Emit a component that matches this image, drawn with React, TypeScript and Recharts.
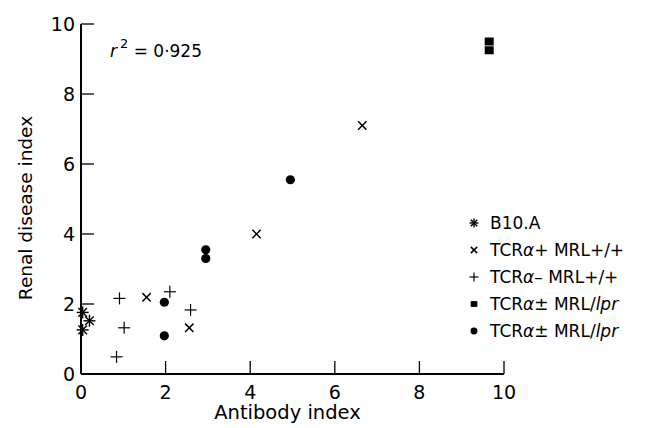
import React from "react";
import { ScatterChart, Scatter, XAxis, YAxis, Legend, Label } from "recharts";

const FONT = '"DejaVu Sans", Verdana, sans-serif';

const xTicks = [0, 2, 4, 6, 8, 10];
const yTicks = [0, 2, 4, 6, 8, 10];

// antibody index (x) vs renal disease index (y)
const b10a = [
  { x: 0.04, y: 1.76 },
  { x: 0.2, y: 1.52 },
  { x: 0.04, y: 1.26 },
];
const tcrPlus = [
  { x: 1.55, y: 2.19 },
  { x: 2.56, y: 1.32 },
  { x: 4.15, y: 4.0 },
  { x: 6.65, y: 7.1 },
];
const tcrMinus = [
  { x: 0.91, y: 2.16 },
  { x: 2.1, y: 2.35 },
  { x: 2.59, y: 1.83 },
  { x: 1.02, y: 1.32 },
  { x: 0.84, y: 0.49 },
];
const lprSquare = [
  { x: 9.65, y: 9.5 },
  { x: 9.65, y: 9.25 },
];
const lprCircle = [
  { x: 1.97, y: 2.05 },
  { x: 1.97, y: 1.09 },
  { x: 2.95, y: 3.55 },
  { x: 2.95, y: 3.3 },
  { x: 4.95, y: 5.55 },
];

const legendLabels = ["B10.A", "TCRα+ MRL+/+", "TCRα– MRL+/+", "TCRα± MRL/lpr", "TCRα± MRL/lpr"];
const legendShapes = ["asterisk", "cross", "plus", "square", "circle"];
const r2Text = "= 0·925";

const drawMark = (kind: string, cx: number, cy: number, small = false) => {
  const k = small ? 0.75 : 1;
  if (kind === "asterisk") {
    const r = 6 * k;
    const d = 4.3 * k;
    return (
      <g stroke="#000" strokeWidth={1.4}>
        <line x1={cx - r} y1={cy} x2={cx + r} y2={cy} />
        <line x1={cx} y1={cy - r} x2={cx} y2={cy + r} />
        <line x1={cx - d} y1={cy - d} x2={cx + d} y2={cy + d} />
        <line x1={cx - d} y1={cy + d} x2={cx + d} y2={cy - d} />
      </g>
    );
  }
  if (kind === "cross") {
    const d = 4.2 * k;
    return (
      <g stroke="#000" strokeWidth={1.5}>
        <line x1={cx - d} y1={cy - d} x2={cx + d} y2={cy + d} />
        <line x1={cx - d} y1={cy + d} x2={cx + d} y2={cy - d} />
      </g>
    );
  }
  if (kind === "plus") {
    const r = 6 * k;
    return (
      <g stroke="#000" strokeWidth={1.2}>
        <line x1={cx - r} y1={cy} x2={cx + r} y2={cy} />
        <line x1={cx} y1={cy - r} x2={cx} y2={cy + r} />
      </g>
    );
  }
  if (kind === "square") {
    const s = 9 * k;
    return <rect x={cx - s / 2} y={cy - (s - 1) / 2} width={s} height={s - 1} fill="#000" />;
  }
  return <circle cx={cx} cy={cy} r={4.6 * k} fill="#000" />;
};

const shapeOf = (kind: string) => (props: any) => drawMark(kind, props.cx, props.cy);

const formatLabel = (s: string) => {
  const parts = s.split(/(α|lpr)/);
  return parts.map((p, i) =>
    p === "α" || p === "lpr" ? <i key={i}>{p}</i> : <span key={i}>{p}</span>
  );
};

const renderLegend = () => (
  <div style={{ fontFamily: FONT, fontSize: 17, color: "#000" }}>
    {legendLabels.map((lab, i) => (
      <div key={i} style={{ display: "flex", alignItems: "center", height: 27, whiteSpace: "nowrap" }}>
        <svg width={16} height={16} style={{ marginRight: 8 }}>
          {drawMark(legendShapes[i], 8, 8, true)}
        </svg>
        <span>{formatLabel(lab)}</span>
      </div>
    ))}
  </div>
);

const XTick = (props: any) => {
  const { x, y, payload } = props;
  return (
    <g>
      <line x1={x} y1={y} x2={x} y2={y - 13} stroke="#000" strokeWidth={1.3} />
      <text x={x} y={y + 25} textAnchor="middle" fontSize={19} fontFamily={FONT} fill="#000">
        {payload.value}
      </text>
    </g>
  );
};

const YTick = (props: any) => {
  const { x, y, payload } = props;
  return (
    <g>
      <line x1={x} y1={y} x2={x + 13} y2={y} stroke="#000" strokeWidth={1.3} />
      <text x={x - 6} y={y + 7} textAnchor="end" fontSize={19} fontFamily={FONT} fill="#000">
        {payload.value}
      </text>
    </g>
  );
};

export default function App() {
  return (
    <div style={{ position: "absolute", left: 0, top: 0, width: 648, height: 428, background: "#fff" }}>
      <ScatterChart width={648} height={428} margin={{ top: 24, right: 144, bottom: 0, left: 0 }}>
        <XAxis
          type="number"
          dataKey="x"
          domain={[0, 10]}
          ticks={xTicks}
          height={54}
          tickSize={0}
          tickMargin={0}
          tickLine={false}
          axisLine={{ stroke: "#000", strokeWidth: 2 }}
          tick={<XTick />}
          interval={0}
        >
          <Label
            value="Antibody index"
            position="center"
            dx={-5}
            dy={11}
            fontSize={19.5}
            fontFamily={FONT}
            fill="#000"
          />
        </XAxis>
        <YAxis
          type="number"
          dataKey="y"
          domain={[0, 10]}
          ticks={yTicks}
          width={81}
          tickSize={0}
          tickMargin={0}
          tickLine={false}
          axisLine={{ stroke: "#000", strokeWidth: 2 }}
          tick={<YTick />}
          interval={0}
        >
          <Label
            value="Renal disease index"
            position="center"
            angle={-90}
            dx={-15.5}
            dy={9}
            fontSize={18.5}
            fontFamily={FONT}
            fill="#000"
          />
        </YAxis>
        <Legend
          layout="vertical"
          align="center"
          verticalAlign="middle"
          content={renderLegend}
          wrapperStyle={{ left: 466, top: 209, width: 182 }}
        />
        <Scatter name={legendLabels[0]} data={b10a} shape={shapeOf("asterisk")} isAnimationActive={false} />
        <Scatter name={legendLabels[1]} data={tcrPlus} shape={shapeOf("cross")} isAnimationActive={false} />
        <Scatter name={legendLabels[2]} data={tcrMinus} shape={shapeOf("plus")} isAnimationActive={false} />
        <Scatter name={legendLabels[3]} data={lprSquare} shape={shapeOf("square")} isAnimationActive={false} />
        <Scatter name={legendLabels[4]} data={lprCircle} shape={shapeOf("circle")} isAnimationActive={false} />
      </ScatterChart>
      <div
        style={{
          position: "absolute",
          left: 110,
          top: 41,
          fontFamily: FONT,
          fontSize: 17,
          lineHeight: "20px",
          whiteSpace: "nowrap",
          color: "#000",
        }}
      >
        <i>r</i>
        <span style={{ fontSize: 13, position: "relative", top: -9, marginLeft: 3 }}>2</span> {r2Text}
      </div>
    </div>
  );
}
